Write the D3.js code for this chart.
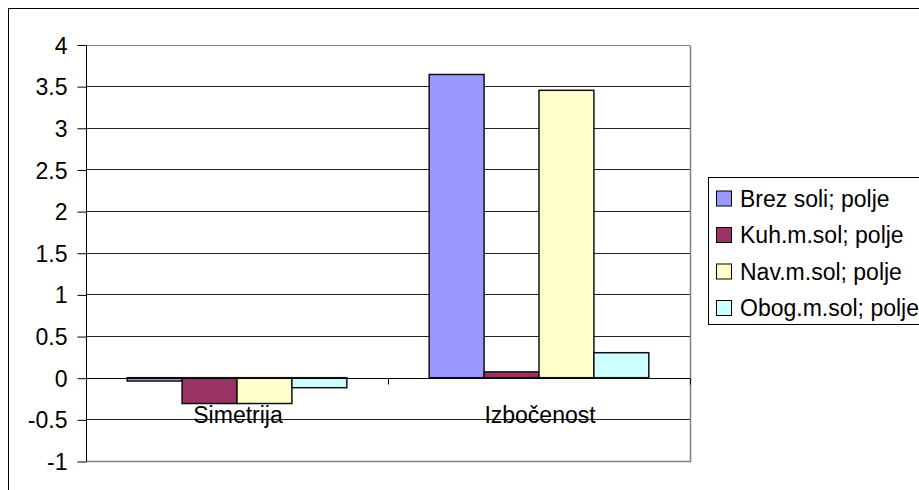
<!DOCTYPE html>
<html>
<head>
<meta charset="utf-8">
<script src="https://cdn.jsdelivr.net/npm/d3@7"></script>
<style>
  html, body { margin: 0; padding: 0; background: #fff; }
  svg { display: block; }
  text { font-family: "Liberation Sans", Arial, sans-serif; font-size: 23px; fill: #000; }
</style>
</head>
<body>
<svg id="chart" width="919" height="490"></svg>
<script>
// Categories, series and their values
const categories = ["Simetrija", "Izbočenost"];
const seriesNames = ["Brez soli; polje", "Kuh.m.sol; polje", "Nav.m.sol; polje", "Obog.m.sol; polje"];
const brezSoli = [-0.04, 3.64];
const kuhMSol = [-0.31, 0.07];
const navMSol = [-0.31, 3.45];
const obogMSol = [-0.12, 0.30];
const seriesColors = ["#9999FF", "#993366", "#FFFFCC", "#CCFFFF"];
const yTickValues = [-1, -0.5, 0, 0.5, 1, 1.5, 2, 2.5, 3, 3.5, 4];

const seriesValues = [brezSoli, kuhMSol, navMSol, obogMSol];

const svg = d3.select("#chart");

// Plot-area geometry
const plot = { left: 86, right: 690, top: 44.5, bottom: 461 };

const y = d3.scaleLinear().domain([-1, 4]).range([plot.bottom, plot.top]);
const x0 = d3.scaleBand().domain(categories).range([plot.left, plot.right]).padding(0);
const bw = x0.bandwidth();
const gap = bw * 1.5 / 5.5; // gap width 150%
const x1 = d3.scaleBand().domain(seriesNames).range([gap / 2, bw - gap / 2]).padding(0);

// Outer chart border
svg.append("rect")
  .attr("x", 8.5).attr("y", 8.5)
  .attr("width", 960).attr("height", 520)
  .attr("fill", "none").attr("stroke", "#000").attr("stroke-width", 1);

// Horizontal gridlines
svg.append("g")
  .selectAll("line")
  .data(yTickValues)
  .join("line")
  .attr("x1", plot.left).attr("x2", plot.right)
  .attr("y1", d => Math.round(y(d)) + 0.5)
  .attr("y2", d => Math.round(y(d)) + 0.5)
  .attr("stroke", d => (d === 4 || d === -1) ? "#808080" : "#222")
  .attr("stroke-width", 1);

// Plot area right and bottom border
svg.append("path")
  .attr("d", `M${plot.right + 0.5},${Math.round(y(4)) + 0.5}V${Math.round(y(-1)) + 0.5}H${plot.left}`)
  .attr("fill", "none").attr("stroke", "#808080").attr("stroke-width", 1.5);

// Bars
const groups = svg.append("g")
  .selectAll("g")
  .data(categories)
  .join("g")
  .attr("transform", d => `translate(${x0(d)},0)`);

groups.selectAll("rect")
  .data((c, ci) => seriesNames.map((s, si) => ({ s, v: seriesValues[si][ci], color: seriesColors[si] })))
  .join("rect")
  .attr("x", d => x1(d.s))
  .attr("width", x1.bandwidth())
  .attr("y", d => Math.min(y(d.v), y(0)))
  .attr("height", d => Math.abs(y(d.v) - y(0)))
  .attr("fill", d => d.color)
  .attr("stroke", "#111")
  .attr("stroke-width", 1.5);

// Value axis (left)
const yAxis = d3.axisLeft(y)
  .tickValues(yTickValues)
  .tickSize(9)
  .tickPadding(10)
  .tickFormat(d => String(d));

const yg = svg.append("g")
  .attr("transform", `translate(${plot.left + 0.5},0.5)`)
  .call(yAxis);
yg.select(".domain").attr("stroke", "#000").attr("d", `M0,${Math.round(y(4))}V${Math.round(y(-1))}`);
yg.selectAll(".tick line").attr("stroke", "#000");
yg.selectAll(".tick text")
  .style("font-size", "23px")
  .style("font-family", "'Liberation Sans', Arial, sans-serif")
  .attr("fill", "#000")
  .attr("dy", "0.35em");

// Category axis crossing at zero
const y0 = Math.round(y(0)) + 0.5;
svg.append("line")
  .attr("x1", plot.left).attr("x2", plot.right)
  .attr("y1", y0).attr("y2", y0)
  .attr("stroke", "#000").attr("stroke-width", 1);

const boundaries = [plot.left, plot.left + bw, plot.right];
svg.append("g")
  .selectAll("line")
  .data(boundaries)
  .join("line")
  .attr("x1", d => Math.round(d) + 0.5).attr("x2", d => Math.round(d) + 0.5)
  .attr("y1", y0).attr("y2", y0 + 6)
  .attr("stroke", "#000");

svg.append("g")
  .selectAll("text")
  .data(categories)
  .join("text")
  .attr("x", d => x0(d) + bw / 2 + 1)
  .attr("y", y0 + 44)
  .attr("text-anchor", "middle")
  .text(d => d);

// Legend
const legend = svg.append("g").attr("transform", "translate(708.5,177.5)");
legend.append("rect")
  .attr("width", 260).attr("height", 147)
  .attr("fill", "#fff").attr("stroke", "#000").attr("stroke-width", 1);

const rows = legend.selectAll("g.row")
  .data(seriesNames)
  .join("g")
  .attr("class", "row")
  .attr("transform", (d, i) => `translate(0,${21 + i * 36.5})`);

rows.append("rect")
  .attr("x", 8).attr("y", -7.5)
  .attr("width", 15).attr("height", 15)
  .attr("fill", (d, i) => seriesColors[i])
  .attr("stroke", "#000").attr("stroke-width", 1);

rows.append("text")
  .attr("x", 31.5).attr("y", 0)
  .attr("dy", "0.35em")
  .text(d => d);
</script>
</body>
</html>
